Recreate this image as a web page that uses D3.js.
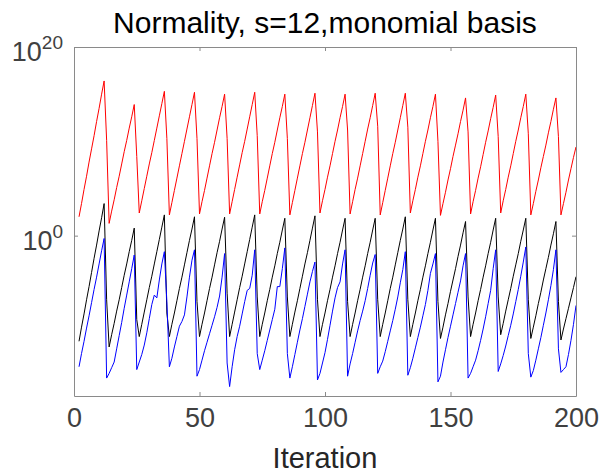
<!DOCTYPE html>
<html>
<head>
<meta charset="utf-8">
<script src="https://cdn.jsdelivr.net/npm/d3@7"></script>
<style>
  body { margin: 0; background: #fff; }
  text { font-family: "Liberation Sans", Arial, sans-serif; }
</style>
</head>
<body>
<svg id="chart" width="600" height="476"></svg>
<script>
// iterations start at 2, one value per iteration, stored as log10 of the normality
const iterStart = 2;

const redLog = [
  2.0, 3.4, 4.9, 6.3, 7.8, 9.2, 10.6, 12.1, 13.5, 15.0, 16.4,
  10.1, 1.3, 2.6, 3.8, 5.1, 6.3, 7.6, 8.9, 10.1, 11.4, 12.6, 13.9,
  8.4, 2.4, 3.7, 5.0, 6.3, 7.6, 8.8, 10.1, 11.4, 12.7, 14.0, 15.3,
  10.3, 2.2, 3.5, 4.8, 6.1, 7.4, 8.7, 10.0, 11.3, 12.6, 13.9, 15.2,
  10.3, 2.3, 3.6, 4.8, 6.1, 7.4, 8.7, 9.9, 11.2, 12.5, 13.7, 15.0,
  10.3, 2.3, 3.6, 4.9, 6.2, 7.5, 8.8, 10.0, 11.3, 12.6, 13.9, 15.2,
  10.6, 2.3, 3.6, 4.8, 6.1, 7.4, 8.7, 9.9, 11.2, 12.5, 13.7, 15.0,
  10.3, 2.2, 3.5, 4.8, 6.1, 7.4, 8.7, 9.9, 11.2, 12.5, 13.8, 15.1,
  11.0, 2.4, 3.7, 4.9, 6.2, 7.4, 8.7, 10.0, 11.2, 12.5, 13.7, 15.0,
  11.2, 2.3, 3.6, 4.9, 6.1, 7.4, 8.7, 10.0, 11.3, 12.5, 13.8, 15.1,
  11.6, 2.2, 3.5, 4.8, 6.1, 7.4, 8.7, 9.9, 11.2, 12.5, 13.8, 15.1,
  11.5, 2.4, 3.7, 4.9, 6.2, 7.4, 8.7, 10.0, 11.2, 12.5, 13.7, 15.0,
  10.0, 2.15, 3.4, 4.6, 5.9, 7.1, 8.4, 9.6, 10.8, 12.1, 13.3, 14.6,
  11.0, 2.3, 3.6, 4.8, 6.1, 7.3, 8.6, 9.9, 11.1, 12.4, 13.6, 14.9,
  10.5, 2.4, 3.7, 4.9, 6.2, 7.4, 8.7, 10.0, 11.2, 12.5, 13.7, 15.0,
  10.8, 2.2, 3.4, 4.7, 5.9, 7.2, 8.4, 9.6, 10.9, 12.1, 13.4, 14.6,
  10.5, 2.2, 3.4, 4.6, 5.9, 7.1, 8.3, 9.4
];

const blackLog = [
  -11.2, -9.7, -8.3, -6.8, -5.4, -3.9, -2.4, -1.0, 0.5, 1.9, 3.4,
  -6.8, -11.8, -10.5, -9.3, -8.0, -6.8, -5.5, -4.2, -3.0, -1.7, -0.5, 0.8,
  -8.9, -10.7, -9.4, -8.1, -6.8, -5.5, -4.3, -3.0, -1.7, -0.4, 0.9, 2.2,
  -8.2, -10.7, -9.4, -8.2, -6.9, -5.6, -4.4, -3.1, -1.8, -0.5, 0.7, 2.0,
  -7.0, -10.7, -9.4, -8.2, -6.9, -5.6, -4.4, -3.1, -1.8, -0.6, 0.7, 1.95,
  -6.1, -10.7, -9.4, -8.1, -6.8, -5.5, -4.3, -3.0, -1.7, -0.4, 0.9, 2.2,
  -6.5, -10.7, -9.4, -8.2, -6.9, -5.7, -4.4, -3.2, -1.9, -0.7, 0.6, 1.84,
  -6.5, -10.7, -9.4, -8.1, -6.9, -5.6, -4.3, -3.0, -1.8, -0.5, 0.8, 2.1,
  -6.8, -10.7, -9.4, -8.2, -6.9, -5.7, -4.4, -3.2, -1.9, -0.7, 0.6, 1.84,
  -7.0, -10.7, -9.4, -8.2, -6.9, -5.7, -4.4, -3.2, -1.9, -0.7, 0.6, 1.84,
  -6.8, -10.7, -9.4, -8.2, -6.9, -5.6, -4.4, -3.1, -1.8, -0.5, 0.7, 2.0,
  -6.8, -10.7, -9.4, -8.2, -6.9, -5.7, -4.4, -3.2, -1.9, -0.7, 0.6, 1.84,
  -7.0, -10.9, -9.7, -8.4, -7.2, -5.9, -4.7, -3.5, -2.2, -1.0, 0.3, 1.5,
  -6.5, -10.7, -9.4, -8.2, -6.9, -5.7, -4.4, -3.2, -1.9, -0.7, 0.6, 1.84,
  -6.5, -10.5, -9.3, -8.0, -6.8, -5.6, -4.3, -3.1, -1.9, -0.6, 0.6, 1.84,
  -6.8, -10.9, -9.7, -8.5, -7.2, -6.0, -4.7, -3.5, -2.3, -1.0, 0.2, 1.5,
  -7.0, -11.06, -9.9, -8.8, -7.7, -6.6, -5.5, -4.35
];

const blueLog = [
  -13.9, -12.5, -11.2, -9.8, -8.5, -7.1, -5.7, -4.4, -3.0, -1.6, -0.3,
  -15.1, -14.6, -14.0, -13.4, -12.0, -10.6, -9.2, -7.7, -6.3, -4.9, -3.5, -2.05,
  -14.2, -13.4, -12.6, -11.6, -10.3, -8.8, -7.3, -6.3, -6.6, -4.7, -3.0, -1.7,
  -7.0, -13.9, -13.0, -11.8, -10.7, -9.6, -9.1, -8.4, -6.5, -4.4, -2.6, -1.5,
  -14.9, -14.2, -13.2, -12.2, -11.3, -10.4, -9.5, -8.6, -7.6, -6.4, -4.4, -1.9,
  -13.5, -16.0, -13.9, -12.1, -10.7, -9.6, -8.3, -7.0, -5.8, -5.6, -4.2, -1.5,
  -12.5, -14.2, -13.2, -12.2, -11.1, -10.0, -8.9, -7.8, -5.4, -5.4, -3.5, -1.3,
  -12.5, -15.1, -13.9, -12.6, -11.3, -10.0, -8.8, -7.5, -6.2, -4.9, -3.8, -2.8,
  -15.3, -14.6, -13.5, -12.4, -11.0, -9.5, -8.0, -6.6, -5.5, -4.9, -3.0, -1.5,
  -14.9, -13.6, -12.5, -11.3, -10.1, -9.0, -8.0, -6.9, -5.6, -4.2, -2.9, -2.0,
  -14.6, -13.9, -13.3, -12.3, -11.2, -10.1, -9.0, -7.8, -6.5, -5.0, -3.6, -1.7,
  -14.8, -14.0, -13.0, -11.9, -10.8, -9.7, -8.5, -7.3, -5.8, -4.0, -3.0, -1.9,
  -15.5, -14.9, -13.4, -12.1, -10.8, -9.6, -8.4, -7.2, -6.0, -4.8, -3.2, -1.9,
  -15.1, -14.6, -13.9, -13.2, -12.2, -11.1, -9.9, -8.6, -7.2, -5.8, -3.5, -1.5,
  -14.4, -13.6, -12.7, -11.7, -10.6, -9.5, -8.3, -7.0, -5.7, -4.3, -2.8, -1.2,
  -12.5, -15.0, -14.3, -13.2, -12.0, -10.8, -9.5, -8.2, -6.8, -5.3, -3.6, -1.5,
  -12.0, -14.5, -14.2, -13.9, -12.6, -11.1, -9.4, -7.4
];

const xTicks = [0, 50, 100, 150, 200];
const yTickExp = [0, 20];
const titleText = "Normality, s=12,monomial basis";
const xLabelText = "Iteration";

const svg = d3.select("#chart");
const plotLeft = 74, plotRight = 576, plotTop = 47, plotBottom = 396;

const x = d3.scaleLinear().domain([0, 200]).range([plotLeft, plotRight]);
const y = d3.scaleLog().domain([1e-17, 1e20]).range([plotBottom, plotTop]);

const line = d3.line()
    .x((d, i) => x(iterStart + i))
    .y(d => y(Math.pow(10, d)));

const series = [
    { values: redLog, color: "#ff0000" },
    { values: blackLog, color: "#000000" },
    { values: blueLog, color: "#0000ff" }
];

svg.append("g").selectAll("path")
    .data(series)
    .join("path")
    .attr("d", d => line(d.values))
    .attr("fill", "none")
    .attr("stroke", d => d.color)
    .attr("stroke-width", 1);

const axisColor = "#8a8a8a";
const yTickVals = yTickExp.map(e => Math.pow(10, e));

const gx = svg.append("g").attr("transform", `translate(0,${plotBottom})`)
    .call(d3.axisBottom(x).tickValues(xTicks).tickSizeInner(-4).tickSizeOuter(0).tickPadding(12));
const gxTop = svg.append("g").attr("transform", `translate(0,${plotTop})`)
    .call(d3.axisTop(x).tickValues(xTicks).tickSizeInner(-4).tickSizeOuter(0).tickFormat(""));
const gy = svg.append("g").attr("transform", `translate(${plotLeft},0)`)
    .call(d3.axisLeft(y).tickValues(yTickVals).tickSizeInner(-4).tickSizeOuter(0).tickFormat(""));
const gyRight = svg.append("g").attr("transform", `translate(${plotRight},0)`)
    .call(d3.axisRight(y).tickValues(yTickVals).tickSizeInner(-4).tickSizeOuter(0).tickFormat(""));

[gx, gxTop, gy, gyRight].forEach(g => {
    g.selectAll(".domain").attr("stroke", axisColor);
    g.selectAll(".tick line").attr("stroke", axisColor);
});

gx.selectAll(".tick text")
    .attr("font-size", 27)
    .attr("fill", "#404040")
    .attr("font-family", "Liberation Sans, Arial, sans-serif");

// y tick labels as 10^n
const yLab = svg.append("g");
yTickExp.forEach(e => {
    const t = yLab.append("text")
        .attr("x", plotLeft - 11)
        .attr("y", y(Math.pow(10, e)) + 14)
        .attr("text-anchor", "end")
        .attr("fill", "#404040")
        .attr("font-size", 27);
    t.append("tspan").text("10");
    t.append("tspan").attr("dy", -12).attr("font-size", 19).text(String(e));
});

svg.append("text")
    .attr("x", (plotLeft + plotRight) / 2)
    .attr("y", 33)
    .attr("text-anchor", "middle")
    .attr("font-size", 30)
    .attr("fill", "#000")
    .text(titleText);

svg.append("text")
    .attr("x", (plotLeft + plotRight) / 2)
    .attr("y", 468)
    .attr("text-anchor", "middle")
    .attr("font-size", 29)
    .attr("fill", "#262626")
    .text(xLabelText);
</script>
</body>
</html>
